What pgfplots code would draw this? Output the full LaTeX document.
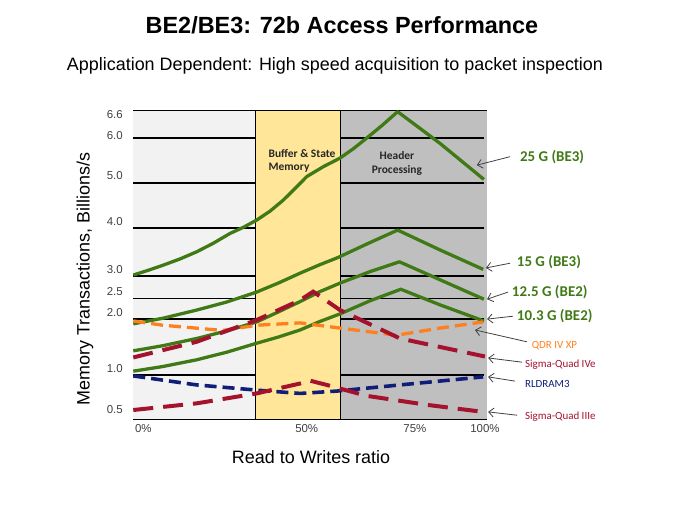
\documentclass[border=0pt]{standalone}
\usepackage{fontspec}
\setmainfont{Liberation Sans}
\newfontfamily\calibri{Carlito}
\usepackage{pgfplots}
\pgfplotsset{compat=1.18}
\usetikzlibrary{arrows.meta}

\definecolor{bgleft}{HTML}{F2F2F2}
\definecolor{bgmid}{HTML}{FFE699}
\definecolor{bgright}{HTML}{BFBFBF}
\definecolor{lgreen}{HTML}{3F7A16}
\definecolor{lred}{HTML}{A5122E}
\definecolor{lorange}{HTML}{FF7F1E}
\definecolor{lnavy}{HTML}{101E78}
\definecolor{tickgray}{HTML}{404040}

\begin{document}
\begin{tikzpicture}
\useasboundingbox (0,0) rectangle (675bp,-506bp);
\node[font=\bfseries\fontsize{23.5}{27}\selectfont] at (342bp,-25bp) {BE2/BE3: 72b Access Performance};
\node[font=\fontsize{18}{21}\selectfont] at (335bp,-66bp) {Application Dependent: High speed acquisition to packet inspection};

\begin{axis}[
  at={(133.3bp,-419bp)}, anchor=south west,
  scale only axis, width=353.4bp, height=308.5bp,
  xmin=0, xmax=100, ymin=0.07, ymax=6.585,
  clip=false,
  axis line style={black, line width=1.2pt},
  major tick length=0,
  xtick={2.83,49.07,79.7,99.5},
  xticklabels={0\%,50\%,75\%,100\%},
  ytick={6.49,6.05,5.22,4.24,3.22,2.77,2.31,1.13,0.26},
  yticklabels={6.6,6.0,5.0,4.0,3.0,2.5,2.0,1.0,0.5},
  /pgf/number format/assume math mode=true,
  tick label style={font=\fontsize{11.5}{13}\selectfont, text=tickgray},
  xticklabel style={yshift=-2bp},
  yticklabel style={xshift=-7bp},
  xlabel={Read to Writes ratio},
  ylabel={Memory Transactions, Billions/s},
  label style={font=\fontsize{18}{21}\selectfont},
  xlabel style={at={(axis description cs:0.503,-0.123)}, anchor=center},
  ylabel style={at={(axis description cs:-0.137,0.454)}, anchor=center},
]
% background bands
\addplot[fill=bgleft, draw=none] coordinates {(0,6.585) (34.6,6.585)} \closedcycle;
\addplot[fill=bgright, draw=none] coordinates {(58.5,6.585) (100,6.585)} \closedcycle;
% horizontal rules
\pgfplotsinvokeforeach{6.0,5.05,4.10,3.09,2.61,2.18,1.0}{
  \addplot[black, line width=1.5pt] coordinates {(0,#1) (99.2,#1)};
}
% middle band sits over the rules
\addplot[fill=bgmid, draw=none] coordinates {(34.6,6.585) (58.5,6.585)} \closedcycle;
\addplot[black, line width=1pt] coordinates {(34.6,0.07) (34.6,6.585)};
\addplot[black, line width=1pt] coordinates {(58.5,0.07) (58.5,6.585)};

\node[anchor=west, align=left, font=\calibri\bfseries\fontsize{11.5}{13.5}\selectfont, text=black!85]
  at (axis cs:37.3,5.52) {Buffer \& State\\Memory};
\node[align=center, font=\calibri\bfseries\fontsize{11.5}{14.5}\selectfont, text=black!85]
  at (axis cs:74.6,5.47) {Header\\Processing};

% green series
\addplot[lgreen, line width=3.3pt, line join=round] coordinates {
  (0,3.11) (4.2,3.21) (8.5,3.32) (13.2,3.45) (17.9,3.60) (22.6,3.78) (27.4,3.99)
  (31.2,4.12) (34.9,4.27) (38.7,4.46) (42.4,4.69) (45.8,4.94)
  (49.1,5.19) (53.8,5.40) (58.5,5.58) (62.3,5.78) (66.0,6.00) (70.4,6.27) (74.8,6.56)
  (86.8,5.89) (99.2,5.13)};
\addplot[lgreen, line width=3.3pt, line join=round] coordinates {
  (0,2.08) (8.5,2.20) (17.9,2.37) (26.4,2.54) (34.9,2.75) (41.0,2.94) (47.2,3.15)
  (52.5,3.32) (57.9,3.48) (66.5,3.78) (74.8,4.06) (86.8,3.64) (99.0,3.23)};
\addplot[lgreen, line width=3.3pt, line join=round] coordinates {
  (0,1.51) (8.5,1.62) (17.9,1.77) (26.4,1.93) (34.9,2.12) (41.0,2.33) (47.2,2.55)
  (52.8,2.76) (58.5,2.94) (66.9,3.18) (75.3,3.39) (86.8,3.01) (99.2,2.60)};
\addplot[lgreen, line width=3.3pt, line join=round] coordinates {
  (0,1.08) (8.5,1.18) (17.9,1.32) (26.4,1.48) (34.9,1.67) (41.0,1.80) (47.2,1.95)
  (52.8,2.13) (58.5,2.29) (67.1,2.57) (75.7,2.81) (86.8,2.48) (99.2,2.14)};

% memory devices
\addplot[lorange, line width=3.3pt, dash pattern=on 12bp off 6bp] coordinates {
  (0,2.14) (8.4,2.05) (25.3,1.94) (34.9,2.05) (47.2,2.10) (58.5,1.99)
  (74.5,1.84) (86.8,1.99) (99.0,2.12)};
\addplot[lred, line width=4pt, dash pattern=on 20bp off 10bp] coordinates {
  (0,1.37) (17.9,1.70) (34.9,2.16) (47.2,2.58) (50.9,2.76) (58.5,2.37)
  (75.5,1.77) (99.5,1.39)};
\addplot[lnavy, line width=3.6pt, dash pattern=on 12bp off 6bp] coordinates {
  (0,0.98) (17.9,0.79) (34.9,0.68) (47.2,0.61) (57.6,0.66) (78.3,0.81) (99.0,0.96)};
\addplot[lred, line width=4pt, dash pattern=on 20bp off 10bp] coordinates {
  (0,0.26) (17.9,0.40) (34.9,0.61) (47.2,0.82) (50.0,0.88) (54.7,0.79)
  (66.0,0.56) (83.0,0.37) (99.0,0.22)};

% call-outs
\tikzset{callout/.style={draw=black!75, line width=0.8pt, -{Straight Barb[length=5bp,width=9bp]}}}
\draw[callout] (axis cs:106.6,5.61) -- (axis cs:97.2,5.43);
\draw[callout] (axis cs:106.6,3.36) -- (axis cs:99.8,3.26);
\draw[callout] (axis cs:106.0,2.75) -- (axis cs:100.1,2.60);
\draw[callout] (axis cs:107.4,2.24) -- (axis cs:100.1,2.18);
\draw[callout] (axis cs:111.4,1.70) -- (axis cs:96.7,1.95);
\draw[callout] (axis cs:110.0,1.27) -- (axis cs:100.4,1.36);
\draw[callout] (axis cs:108.0,0.87) -- (axis cs:100.4,0.96);
\draw[callout] (axis cs:108.6,0.15) -- (axis cs:100.4,0.22);

\tikzset{big/.style={anchor=west, inner sep=0pt, text=lgreen, font=\calibri\bfseries\fontsize{15}{18}\selectfont},
         small/.style={anchor=west, inner sep=0pt, font=\calibri\fontsize{11}{13}\selectfont}}
\node[big] at (axis cs:109.4,5.61) {25 G (BE3)};
\node[big] at (axis cs:108.5,3.39) {15 G (BE3)};
\node[big] at (axis cs:107.1,2.75) {12.5 G (BE2)};
\node[big] at (axis cs:108.5,2.25) {10.3 G (BE2)};
\node[small, text=lorange] at (axis cs:112.7,1.61) {QDR IV XP};
\node[small, text=lred] at (axis cs:110.8,1.21) {Sigma-Quad IVe};
\node[small, text=lnavy] at (axis cs:110.8,0.82) {RLDRAM3};
\node[small, text=lred] at (axis cs:110.8,0.12) {Sigma-Quad IIIe};
\end{axis}
\end{tikzpicture}
\end{document}
